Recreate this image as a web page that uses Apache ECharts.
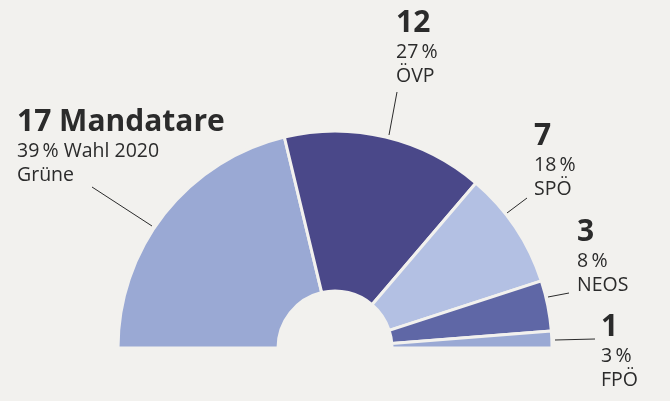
<!DOCTYPE html>
<html><head><meta charset="utf-8">
<script src="https://cdn.jsdelivr.net/npm/echarts@6/dist/echarts.min.js"></script>
<style>html,body{margin:0;padding:0;background:#f2f1ee;}#c{width:670px;height:401px;}</style>
</head><body><div id="c"></div>
<script>
const parties = ['Grüne', 'ÖVP', 'SPÖ', 'NEOS', 'FPÖ'];
const seats = [17, 12, 7, 3, 1];
const percents = [39, 27, 18, 8, 3];
const colors = ['#9aa9d4', '#4a4889', '#b3c0e3', '#5f67a6', '#9aa9d4'];

// label layout (positions only)
const labelPos = [[17, 106], [396, 7], [534, 120], [577, 216], [601, 311]];
const linePts = [[[152, 226], [92, 187]], [[389, 135], [397, 92]], [[507, 213], [527, 198]], [[548, 297], [569, 293]], [[555, 340], [595, 339]]];

const chart = echarts.init(document.getElementById('c'));
chart.setOption({
  backgroundColor: '#f2f1ee',
  animation: false,
  series: [{
    type: 'pie',
    center: [335, 348],
    radius: [57, 217],
    startAngle: 180,
    endAngle: 0,
    clockwise: true,
    avoidLabelOverlap: false,
    itemStyle: { borderColor: '#f2f1ee', borderWidth: 3 },
    data: parties.map((p, i) => ({
      name: p, value: seats[i],
      itemStyle: { color: colors[i] }
    })),
    label: {
      show: true,
      color: '#2b2b2b',
      fontFamily: 'Open Sans',
      formatter: (p) => {
        const i = p.dataIndex;
        const head = i === 0 ? seats[i] + ' Mandatare' : String(seats[i]);
        const sub = i === 0 ? percents[i] + '\u2009% Wahl 2020' : percents[i] + '\u2009%';
        return '{n|' + head + '}\n{p|' + sub + '}\n{p|' + parties[i] + '}';
      },
      rich: {
        n: { fontSize: 30, fontWeight: 'bold', lineHeight: 33, fontFamily: 'Open Sans', color: '#2b2b2b' },
        p: { fontSize: 19.5, lineHeight: 24, fontFamily: 'Open Sans', color: '#2b2b2b' }
      }
    },
    labelLine: { show: true, lineStyle: { color: '#2b2b2b', width: 1 } },
    labelLayout: (params) => {
      const i = params.dataIndex;
      const a = linePts[i];
      return {
        x: labelPos[i][0], y: labelPos[i][1],
        align: 'left', verticalAlign: 'top',
        labelLinePoints: [a[0], a[1], a[1]]
      };
    }
  }]
});
</script></body></html>
